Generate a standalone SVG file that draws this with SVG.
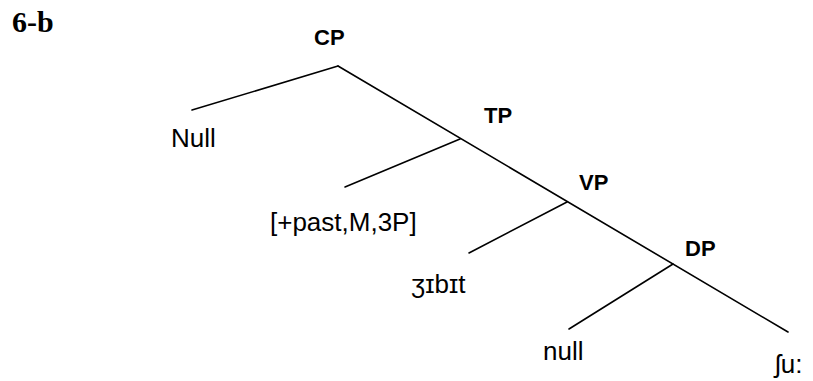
<svg xmlns="http://www.w3.org/2000/svg" width="813" height="381" viewBox="0 0 813 381">
<style>
.edge{stroke:#000;stroke-width:1.6;fill:none;stroke-linecap:round}
.lab{font-family:"Liberation Sans","DejaVu Sans",sans-serif;font-size:26px;fill:#000}
.cat{font-family:"Liberation Sans","DejaVu Sans",sans-serif;font-size:22px;font-weight:bold;fill:#000}
.title{font-family:"Liberation Serif","DejaVu Serif",serif;font-size:30px;font-weight:bold;fill:#000}
</style>
<rect width="813" height="381" fill="#fff"/>
<text class="title" x="12" y="32">6-b</text>
<g id="connectors">
<line class="edge" x1="338" y1="66" x2="192" y2="110"/>
<line class="edge" x1="338" y1="66" x2="788" y2="332"/>
<line class="edge" x1="460" y1="139" x2="345" y2="187"/>
<line class="edge" x1="567" y1="202" x2="469" y2="253"/>
<line class="edge" x1="673" y1="264" x2="569" y2="329"/>
</g>
<g id="CP"><text class="cat" x="314" y="45">CP</text></g>
<g id="Null"><text class="lab" x="171" y="147">Null</text></g>
<g id="TP"><text class="cat" x="484" y="123">TP</text></g>
<g id="features"><text class="lab" x="270" y="231">[+past,M,3P]</text></g>
<g id="VP"><text class="cat" x="579" y="190">VP</text></g>
<g id="verb"><text class="lab" x="411" y="293">ʒɪbɪt</text></g>
<g id="DP"><text class="cat" x="685" y="256">DP</text></g>
<g id="null"><text class="lab" x="543" y="360">null</text></g>
<g id="shu"><text class="lab" x="775" y="373">ʃu:</text></g>
</svg>
